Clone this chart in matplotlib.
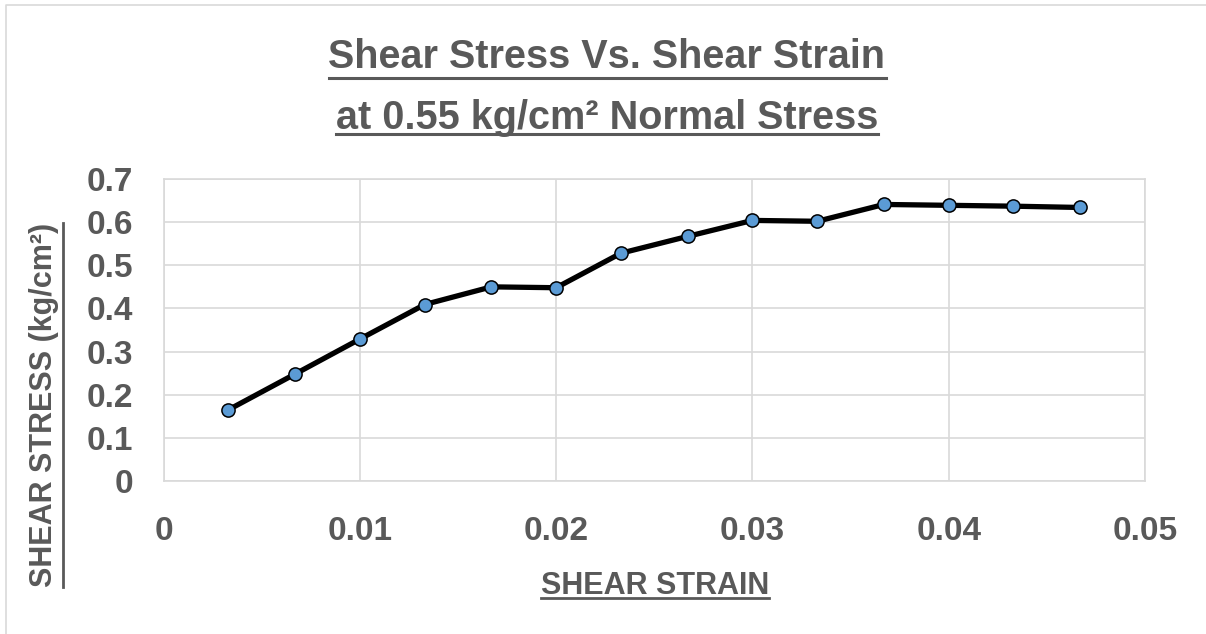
import matplotlib
matplotlib.use("Agg")
import matplotlib.pyplot as plt
from matplotlib.lines import Line2D

# data
strain = [0.0033, 0.0067, 0.0100, 0.0133, 0.0167, 0.0200, 0.0233,
          0.0267, 0.0300, 0.0333, 0.0367, 0.0400, 0.0433, 0.0467]
stress = [0.165, 0.248, 0.329, 0.409, 0.450, 0.448, 0.528,
          0.567, 0.604, 0.602, 0.641, 0.639, 0.637, 0.634]
x_ticks = [0, 0.01, 0.02, 0.03, 0.04, 0.05]
x_labels = ["0", "0.01", "0.02", "0.03", "0.04", "0.05"]
y_ticks = [0, 0.1, 0.2, 0.3, 0.4, 0.5, 0.6, 0.7]
y_labels = ["0", "0.1", "0.2", "0.3", "0.4", "0.5", "0.6", "0.7"]

title_1 = "Shear Stress Vs. Shear Strain"
title_2 = "at 0.55 kg/cm\u00b2 Normal Stress"
x_title = "SHEAR STRAIN"
y_title = "SHEAR STRESS (kg/cm\u00b2)"

W, H = 1206, 634
TXT = "#595959"
GRID = "#D9D9D9"
plt.rcParams["font.family"] = ["Liberation Sans", "DejaVu Sans"]
plt.rcParams["font.weight"] = "bold"


def fx(x):
    return x / W


def fy(y):
    # pixel row measured from top -> figure fraction
    return 1 - y / H


fig = plt.figure(figsize=(W / 100, H / 100), dpi=100)
# chart border (only left and top edges are visible in the crop)
fig.lines.append(Line2D([fx(6), fx(6), 1.01], [-0.01, fy(5), fy(5)],
                        transform=fig.transFigure, color=GRID, lw=1.2))

ax = fig.add_axes([fx(163.6), fy(481), fx(1145 - 163.6), (481 - 179) / H])
ax.plot(strain, stress, color="black", lw=3.8, marker="o", ms=9.5,
        mfc="#5B9BD5", mec="black", mew=1.1, zorder=3)

ax.set_xlim(0, 0.05)
ax.set_ylim(0, 0.7)
ax.set_xticks(x_ticks)
ax.set_xticklabels(x_labels)
ax.set_yticks(y_ticks)
ax.set_yticklabels(y_labels)
ax.tick_params(axis="x", length=0, pad=25, labelsize=24, labelcolor=TXT)
ax.tick_params(axis="y", length=0, pad=22, labelsize=24, labelcolor=TXT)
for lab in ax.get_xticklabels() + ax.get_yticklabels():
    lab.set_fontweight("bold")
ax.grid(True, color=GRID, lw=1.2)
ax.set_axisbelow(True)
for sp in ax.spines.values():
    sp.set_color(GRID)
    sp.set_linewidth(1.2)

t1 = fig.text(fx(607), fy(68), title_1, ha="center", va="baseline",
              fontsize=28.5, fontweight="bold", color=TXT)
t2 = fig.text(fx(607), fy(129), title_2, ha="center", va="baseline",
              fontsize=28.5, fontweight="bold", color=TXT)
tx = fig.text(fx(655), fy(594), x_title, ha="center", va="baseline",
              fontsize=22, fontweight="bold", color=TXT)
ty = fig.text(fx(44), fy(405), y_title, ha="center", va="center", rotation=90,
              fontsize=22, fontweight="bold", color=TXT)

# underlines
fig.canvas.draw()
r = fig.canvas.get_renderer()
for t, yy, lw in [(t1, 78, 2.2), (t2, 134, 2.2), (tx, 598, 2.0)]:
    bb = t.get_window_extent(r)
    fig.lines.append(Line2D([bb.x0 / W, bb.x1 / W], [fy(yy), fy(yy)],
                            transform=fig.transFigure, color=TXT, lw=lw))
bb = ty.get_window_extent(r)
fig.lines.append(Line2D([fx(63), fx(63)], [bb.y0 / H, bb.y1 / H],
                        transform=fig.transFigure, color=TXT, lw=2.0))

fig.savefig("out.png", dpi=100)
